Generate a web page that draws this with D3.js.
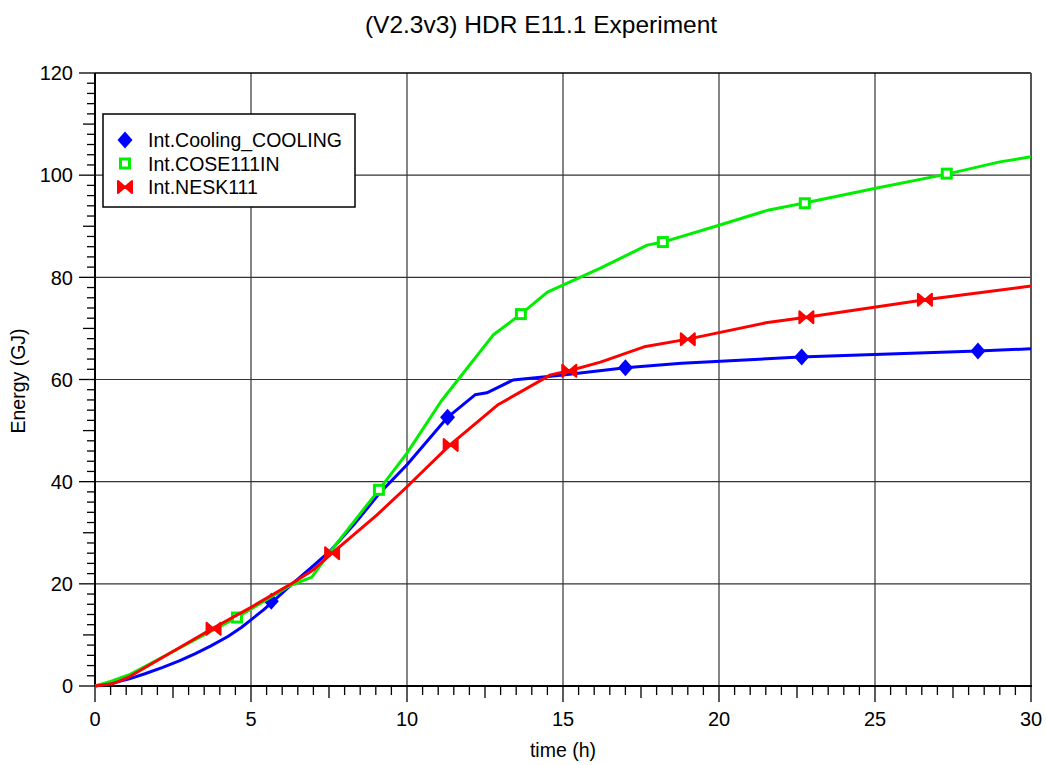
<!DOCTYPE html>
<html>
<head>
<meta charset="utf-8">
<script src="https://cdn.jsdelivr.net/npm/d3@7"></script>
<style>
  body { margin: 0; background: #fff; }
  svg text { font-family: "Liberation Sans", Arial, sans-serif; fill: #000; }
</style>
</head>
<body>
<svg id="chart" width="1046" height="765"></svg>
<script>
// series: [time (h), energy (GJ)]
var cooling = [[0,0],[0.5,0.5],[1.1,1.4],[1.6,2.4],[2.15,3.6],[2.7,4.9],[3.2,6.3],[3.7,7.8],[4.26,9.7],
  [4.7,11.5],[5.03,13.1],[5.4,14.9],[5.7,16.5],[6.25,19.6],[6.9,23.0],
  [7.53,26.4],[8.3,31.6],[9.13,37.8],[10,43.3],[11.3,52.6],[12.18,57.0],[12.56,57.4],[13.4,59.9],[15.0,60.9],
  [17.0,62.3],[18.8,63.2],[22.6,64.4],[28.3,65.6],[30,66.0]];
var cose = [[0,0],[0.5,0.9],[1.1,2.2],[4.55,13.4],[6.2,19.5],[6.95,21.3],[7.53,26.2],[9.1,38.4],
  [10,45.6],[11.1,55.8],[12.76,68.7],[13.65,72.8],[14.5,77.1],[16.2,81.8],[17.7,86.3],[18.2,86.9],
  [20,90.2],[21.6,93.2],[22.7,94.5],[25.06,97.5],[27.3,100.2],[29,102.6],[30,103.6]];
var nesk = [[0,0],[0.6,0.5],[1.1,1.8],[3.75,11.2],[5.03,15.5],[6.4,20.4],[6.99,22.7],[7.6,26.0],
  [9.04,33.5],[10,39.0],[11.38,47.2],[12.9,55.0],[14.6,60.9],[15.2,61.7],[16.2,63.4],[17.6,66.4],
  [19.0,67.9],[21.5,71.1],[22.8,72.2],[26.6,75.6],[30,78.3]];

// marker positions
var coolingMarks = [[5.65,16.6],[11.3,52.6],[17.0,62.3],[22.65,64.4],[28.3,65.6]];
var coseMarks = [[4.55,13.4],[9.1,38.4],[13.65,72.8],[18.2,86.9],[22.75,94.5],[27.3,100.3]];
var neskMarks = [[3.8,11.2],[7.6,26.0],[11.4,47.2],[15.2,61.7],[19.0,67.9],[22.8,72.2],[26.6,75.6]];

var seriesNames = ["Int.Cooling_COOLING", "Int.COSE111IN", "Int.NESK111"];
var xTicks = [0, 5, 10, 15, 20, 25, 30];
var yTicks = [0, 20, 40, 60, 80, 100, 120];

var svg = d3.select("#chart"),
    pLeft = 95, pRight = 1031, pTop = 73, pBottom = 686;

var x = d3.scaleLinear().domain([0, 30]).range([pLeft, pRight]);
var y = d3.scaleLinear().domain([0, 120]).range([pBottom, pTop]);

var colors = ["#0000ff", "#00ee00", "#ff0000"];

// grid
svg.append("g").selectAll("line")
    .data(xTicks.slice(1, -1))
    .enter().append("line")
    .attr("x1", function(d) { return x(d); }).attr("x2", function(d) { return x(d); })
    .attr("y1", pTop).attr("y2", pBottom)
    .attr("stroke", "#333").attr("stroke-width", 1.2);
svg.append("g").selectAll("line")
    .data(yTicks.slice(1, -1))
    .enter().append("line")
    .attr("y1", function(d) { return y(d); }).attr("y2", function(d) { return y(d); })
    .attr("x1", pLeft).attr("x2", pRight)
    .attr("stroke", "#333").attr("stroke-width", 1.2);

// frame top & right
svg.append("line").attr("x1", pLeft).attr("x2", pRight).attr("y1", pTop).attr("y2", pTop)
    .attr("stroke", "#000").attr("stroke-width", 1.5);
svg.append("line").attr("x1", pRight).attr("x2", pRight).attr("y1", pTop).attr("y2", pBottom)
    .attr("stroke", "#555").attr("stroke-width", 2);

// x ticks (every 0.5)
svg.append("g").selectAll("line")
    .data(x.ticks(60))
    .enter().append("line")
    .attr("x1", function(d) { return x(d); }).attr("x2", function(d) { return x(d); })
    .attr("y1", pBottom)
    .attr("y2", function(d) { return pBottom + (d % 5 === 0 ? 16 : (d % 2.5 === 0 ? 12 : 9)); })
    .attr("stroke", "#000").attr("stroke-width", 1.3);
// y ticks (every 2)
svg.append("g").selectAll("line")
    .data(y.ticks(60))
    .enter().append("line")
    .attr("y1", function(d) { return y(d); }).attr("y2", function(d) { return y(d); })
    .attr("x2", pLeft)
    .attr("x1", function(d) { return pLeft - (d % 20 === 0 ? 16 : (d % 10 === 0 ? 12 : 8)); })
    .attr("stroke", "#000").attr("stroke-width", 1.3);

// axis lines
svg.append("line").attr("x1", pLeft).attr("x2", pRight + 1).attr("y1", pBottom).attr("y2", pBottom)
    .attr("stroke", "#000").attr("stroke-width", 2);
svg.append("line").attr("x1", pLeft).attr("x2", pLeft).attr("y1", pTop).attr("y2", pBottom)
    .attr("stroke", "#000").attr("stroke-width", 2);

// tick labels
svg.append("g").selectAll("text")
    .data(xTicks)
    .enter().append("text")
    .attr("x", function(d) { return x(d); })
    .attr("y", 726)
    .attr("text-anchor", "middle")
    .style("font-size", "20px")
    .text(function(d) { return d; });
svg.append("g").selectAll("text")
    .data(yTicks)
    .enter().append("text")
    .attr("x", 73)
    .attr("y", function(d) { return y(d); })
    .attr("dy", "0.36em")
    .attr("text-anchor", "end")
    .style("font-size", "20px")
    .text(function(d) { return d; });

// axis titles
svg.append("text").attr("x", 563).attr("y", 757).attr("text-anchor", "middle")
    .style("font-size", "19.5px").text("time (h)");
svg.append("text").attr("transform", "translate(25,381) rotate(-90)").attr("text-anchor", "middle")
    .style("font-size", "19.5px").text("Energy (GJ)");
svg.append("text").attr("x", 541).attr("y", 33).attr("text-anchor", "middle")
    .style("font-size", "24.5px").text("(V2.3v3) HDR E11.1 Experiment");

// markers
function drawMarker(sel, i) {
  if (i === 0) {
    sel.append("path").attr("d", "M0,-8.5L7.5,0L0,8.5L-7.5,0Z").attr("fill", colors[0]);
  } else if (i === 1) {
    sel.append("rect").attr("x", -4.5).attr("y", -4.5).attr("width", 9).attr("height", 9)
      .attr("fill", "#fff").attr("stroke", colors[1]).attr("stroke-width", 3);
  } else {
    sel.append("path").attr("d", "M-7,-6L0,0L-7,6ZM7,-6L0,0L7,6Z")
      .attr("fill", colors[2]).attr("stroke", colors[2]).attr("stroke-width", 2)
      .attr("stroke-linejoin", "round");
  }
}

var line = d3.line()
    .x(function(d) { return x(d[0]); })
    .y(function(d) { return y(d[1]); });

var allSeries = [cooling, cose, nesk];
var allMarks = [coolingMarks, coseMarks, neskMarks];

allSeries.forEach(function(s, i) {
  var g = svg.append("g");
  g.append("path")
    .datum(s)
    .attr("d", line)
    .attr("fill", "none")
    .attr("stroke", colors[i])
    .attr("stroke-width", 3)
    .attr("stroke-linejoin", "round");
  g.selectAll(".m")
    .data(allMarks[i])
    .enter().append("g")
    .attr("class", "m")
    .attr("transform", function(d) { return "translate(" + x(d[0]) + "," + y(d[1]) + ")"; })
    .each(function() { drawMarker(d3.select(this), i); });
});

// legend
var legend = svg.append("g");
legend.append("rect")
    .attr("x", 103).attr("y", 114).attr("width", 252).attr("height", 93)
    .attr("fill", "#fff").attr("stroke", "#000").attr("stroke-width", 1.5);
var items = legend.selectAll(".item")
    .data(seriesNames)
    .enter().append("g")
    .attr("class", "item")
    .attr("transform", function(d, i) { return "translate(0," + (140 + i * 23.5) + ")"; });
items.each(function(d, i) {
  var mk = d3.select(this).append("g").attr("transform", "translate(125,0)");
  drawMarker(mk, i);
});
items.append("text")
    .attr("x", 148)
    .attr("dy", "0.36em")
    .style("font-size", "19.5px")
    .text(function(d) { return d; });
</script>
</body>
</html>
